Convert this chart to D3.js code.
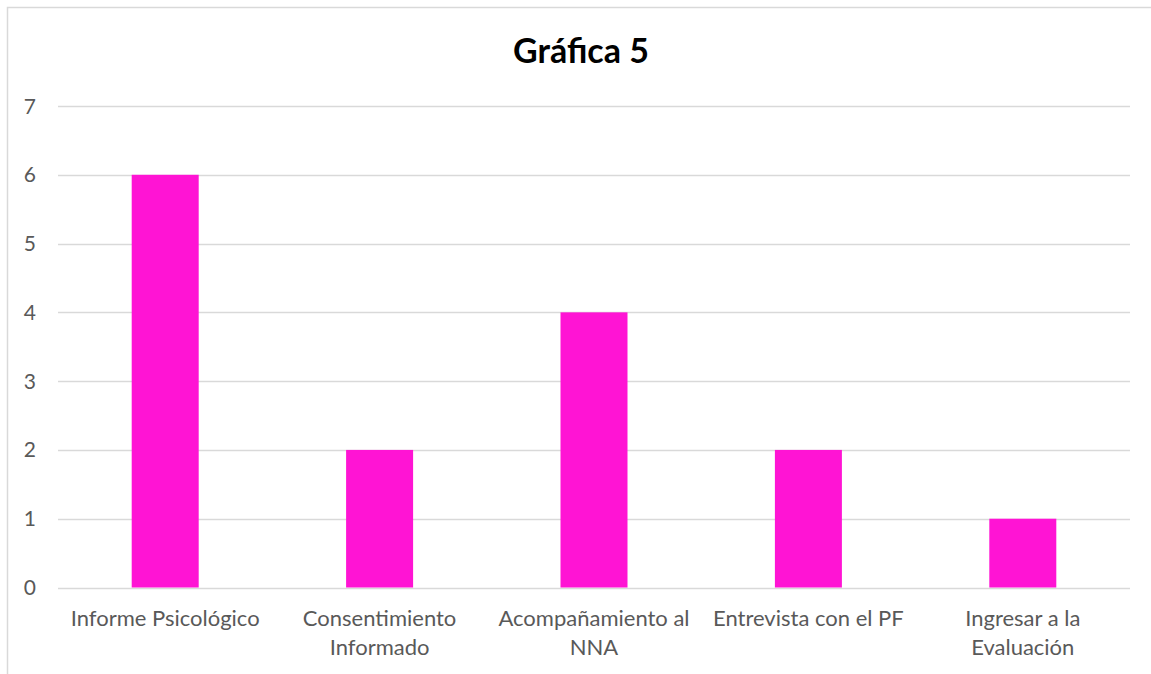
<!DOCTYPE html>
<html>
<head>
<meta charset="utf-8">
<script src="https://cdn.jsdelivr.net/npm/d3@7"></script>
<style>
  html, body { margin: 0; padding: 0; background: #fff; }
  svg { display: block; }
</style>
</head>
<body>
<svg id="chart" width="1151" height="674"></svg>
<script>
const title = "Gráfica 5";
const categories = ["Informe Psicológico", "Consentimiento\nInformado", "Acompañamiento al\nNNA", "Entrevista con el PF", "Ingresar a la\nEvaluación"];
const values = [6, 2, 4, 2, 1];
const yTicks = [0, 1, 2, 3, 4, 5, 6, 7];

const svg = d3.select("#chart");
const font = "Lato, 'Open Sans', sans-serif";

// outer frame (cropped at right and bottom)
svg.append("path")
  .attr("d", "M7.5,674 L7.5,7.5 L1151,7.5")
  .attr("fill", "none").attr("stroke", "#d9d9d9").attr("stroke-width", 1.5);

const x = d3.scaleBand().domain(categories).range([58, 1130])
  .paddingInner(0.6875).paddingOuter(0.34375);
const y = d3.scaleLinear().domain([0, 7]).range([587.5, 106]);

// gridlines
svg.append("g").selectAll("line").data(yTicks).join("line")
  .attr("x1", 58).attr("x2", 1130)
  .attr("y1", d => Math.round(y(d)) + 0.5).attr("y2", d => Math.round(y(d)) + 0.5)
  .attr("stroke", "#d9d9d9").attr("stroke-width", 1.3);

// y labels
svg.append("g").selectAll("text").data(yTicks).join("text")
  .attr("x", 36).attr("y", d => y(d))
  .attr("dy", "0.36em")
  .attr("text-anchor", "end")
  .attr("font-family", font).attr("font-size", 21)
  .attr("fill", "#595959")
  .text(d => d);

// bars
svg.append("g").selectAll("rect").data(values).join("rect")
  .attr("x", (d, i) => x(categories[i]))
  .attr("width", x.bandwidth())
  .attr("y", d => y(d))
  .attr("height", d => y(0) - y(d))
  .attr("fill", "#FF14D4");

// x labels
const xl = svg.append("g").selectAll("text").data(categories).join("text")
  .attr("x", d => x(d) + x.bandwidth() / 2)
  .attr("y", 626)
  .attr("text-anchor", "middle")
  .attr("font-family", font).attr("font-size", 22)
  .attr("fill", "#595959");
xl.selectAll("tspan").data(d => d.split("\n")).join("tspan")
  .attr("x", function () { return d3.select(this.parentNode).attr("x"); })
  .attr("dy", (d, i) => i === 0 ? 0 : 28.5)
  .text(d => d);

// title
svg.append("text")
  .attr("x", 581).attr("y", 63)
  .attr("text-anchor", "middle")
  .attr("font-family", font).attr("font-size", 34).attr("font-weight", "bold")
  .attr("fill", "#000")
  .text(title);
</script>
</body>
</html>
